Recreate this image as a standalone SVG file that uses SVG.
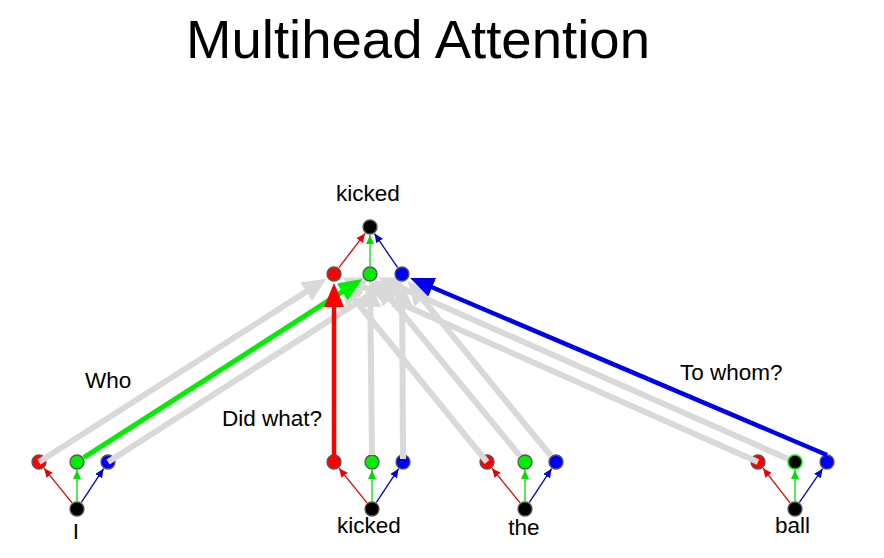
<svg xmlns="http://www.w3.org/2000/svg" width="884" height="558" viewBox="0 0 884 558">
<style>
text{font-family:"Liberation Sans",Arial,sans-serif;fill:#000}
.t{font-size:54px}
.l{font-size:22.5px}
.n{stroke:#555;stroke-width:1.3}
.r{fill:#ff0000}.g{fill:#00ee00}.b{fill:#0000ff}.k{fill:#000}
.grey{stroke:#d9d9d9;stroke-width:6;fill:none}
.hr{stroke:#ff0000;stroke-width:4.5;fill:none}
.hg{stroke:#00ee00;stroke-width:5;fill:none}
.hb{stroke:#0000ee;stroke-width:4.5;fill:none}
.sr{stroke:#ee0000;stroke-width:1.3;fill:none}
.sg{stroke:#00dd00;stroke-width:1.3;fill:none}
.sb{stroke:#0000cc;stroke-width:1.3;fill:none}
</style>
<defs>
<marker id="mGrey" markerUnits="userSpaceOnUse" markerWidth="24" markerHeight="22" refX="4" refY="11" orient="auto"><path d="M0,0 L24,11 L0,22 z" fill="#d9d9d9"/></marker>
<marker id="mR" markerUnits="userSpaceOnUse" markerWidth="24" markerHeight="20" refX="4" refY="10" orient="auto"><path d="M0,0 L24,10 L0,20 z" fill="#ff0000"/></marker>
<marker id="mG" markerUnits="userSpaceOnUse" markerWidth="24" markerHeight="20" refX="4" refY="10" orient="auto"><path d="M0,0 L24,10 L0,20 z" fill="#00ee00"/></marker>
<marker id="mB" markerUnits="userSpaceOnUse" markerWidth="24" markerHeight="20" refX="4" refY="10" orient="auto"><path d="M0,0 L24,10 L0,20 z" fill="#0000ee"/></marker>
<marker id="sR" markerUnits="userSpaceOnUse" markerWidth="9" markerHeight="8" refX="9" refY="4" orient="auto"><path d="M0,0 L9,4 L0,8 z" fill="#ee0000"/></marker>
<marker id="sG" markerUnits="userSpaceOnUse" markerWidth="9" markerHeight="8" refX="9" refY="4" orient="auto"><path d="M0,0 L9,4 L0,8 z" fill="#00dd00"/></marker>
<marker id="sB" markerUnits="userSpaceOnUse" markerWidth="9" markerHeight="8" refX="9" refY="4" orient="auto"><path d="M0,0 L9,4 L0,8 z" fill="#0000cc"/></marker>
</defs>
<rect width="884" height="558" fill="#fff"/>
<text class="t" x="186" y="58" textLength="464" lengthAdjust="spacingAndGlyphs">Multihead Attention</text>

<g id="word-I">
<circle class="n r" cx="39" cy="462" r="7"/>
<circle class="n g" cx="77" cy="462" r="7"/>
<circle class="n b" cx="108" cy="462" r="7"/>
<circle class="n k" cx="77" cy="509" r="7"/>
<text class="l" x="76" y="539" text-anchor="middle">I</text>
</g>
<g id="word-kicked">
<circle class="n r" cx="334" cy="462" r="7"/>
<circle class="n g" cx="372" cy="462" r="7"/>
<circle class="n b" cx="403" cy="462" r="7"/>
<circle class="n k" cx="372" cy="509" r="7"/>
<text class="l" x="369" y="533" text-anchor="middle">kicked</text>
</g>
<g id="word-the">
<circle class="n r" cx="487" cy="462" r="7"/>
<circle class="n g" cx="525" cy="462" r="7"/>
<circle class="n b" cx="556" cy="462" r="7"/>
<circle class="n k" cx="525" cy="509" r="7"/>
<text class="l" x="524" y="535" text-anchor="middle">the</text>
</g>
<g id="word-ball">
<circle class="n r" cx="758" cy="462" r="7"/>
<circle cx="795" cy="462" r="7" fill="#000" stroke="#00ee00" stroke-width="1.5"/>
<circle class="n b" cx="827" cy="462" r="7"/>
<circle class="n k" cx="795" cy="509" r="7"/>
<text class="l" x="792.5" y="533" text-anchor="middle">ball</text>
</g>

<g id="connectors">
<g marker-end="url(#mGrey)" class="grey">
<path d="M39,462 L309.5,289.6"/>
<path d="M108,462 L377.6,289.6"/>
<path d="M372,455 L370.3,303"/>
<path d="M403,459 L402.2,303"/>
<path d="M487,462 L352.3,296.5"/>
<path d="M519.9,455.8 L388.4,296.4"/>
<path d="M551,456 L420.4,296.4"/>
<path d="M758,462 L360.5,285.8"/>
<path d="M787.7,458.8 L396.5,285.7"/>
</g>
<path class="hg" d="M83.7,457.7 L345.6,289.7" marker-end="url(#mG)"/>
<path class="hr" d="M334,458 L334,303" marker-end="url(#mR)"/>
<path class="hb" d="M827,455 L428.5,285.7" marker-end="url(#mB)"/>

<path class="sr" d="M338.9,267.6 L365.1,233.4" marker-end="url(#sR)"/>
<path class="sg" d="M370,266 L370,235" marker-end="url(#sG)"/>
<path class="sb" d="M397.5,267.4 L374.5,233.6" marker-end="url(#sB)"/>

<path class="sr" d="M72,502.8 L44,468.2" marker-end="url(#sR)"/>
<path class="sg" d="M77,501 L77,470" marker-end="url(#sG)"/>
<path class="sb" d="M81.4,502.3 L103.6,468.7" marker-end="url(#sB)"/>

<path class="sr" d="M367,502.8 L339,468.2" marker-end="url(#sR)"/>
<path class="sg" d="M372,501 L372,470" marker-end="url(#sG)"/>
<path class="sb" d="M376.4,502.3 L398.6,468.7" marker-end="url(#sB)"/>

<path class="sr" d="M520,502.8 L492,468.2" marker-end="url(#sR)"/>
<path class="sg" d="M525,501 L525,470" marker-end="url(#sG)"/>
<path class="sb" d="M529.4,502.3 L551.6,468.7" marker-end="url(#sB)"/>

<path class="sr" d="M790,502.8 L763,468.2" marker-end="url(#sR)"/>
<path class="sg" d="M795,501 L795,470" marker-end="url(#sG)"/>
<path class="sb" d="M799.4,502.3 L822.6,468.7" marker-end="url(#sB)"/>
</g>

<g id="top">
<circle class="n k" cx="370" cy="227" r="7"/>
<circle class="n r" cx="334" cy="274" r="7"/>
<circle class="n g" cx="370" cy="274" r="7"/>
<circle class="n b" cx="402" cy="274" r="7"/>
<text class="l" x="368" y="201" text-anchor="middle">kicked</text>
</g>

<g id="labels">
<text class="l" x="85" y="388">Who</text>
<text class="l" x="222" y="426">Did what?</text>
<text class="l" x="680" y="380">To whom?</text>
</g>
</svg>
